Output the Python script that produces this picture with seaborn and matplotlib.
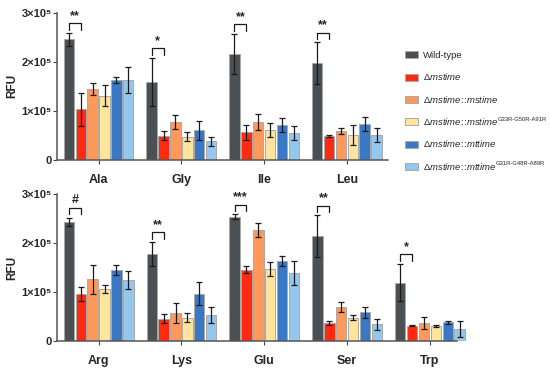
import numpy as np
import pandas as pd
import matplotlib
matplotlib.use('Agg')
import matplotlib.pyplot as plt
from matplotlib.patches import Patch
import seaborn as sns

strains = ['Wild-type', 'dmstime', 'dmstime::mstime', 'dmstime::mstime_mut',
           'dmstime::mttime', 'dmstime::mttime_mut']
cc = r'\!:\!\!:\!'
legend_labels = [
    'Wild-type',
    r'$\Delta\mathit{mstime}$',
    r'$\Delta\mathit{mstime' + cc + r'mstime}$',
    r'$\Delta\mathit{mstime' + cc + r'mstime}$',
    r'$\Delta\mathit{mstime' + cc + r'mttime}$',
    r'$\Delta\mathit{mstime' + cc + r'mttime}$',
]
legend_sup = ['', '', '', 'G33R-G50R-A91R', '', 'G31R-G48R-A89R']
colors = ['#4b5055', '#ff2b10', '#ff995b', '#ffe49e', '#3b78c4', '#95c7ec']

top_aa = ['Ala', 'Gly', 'Ile', 'Leu']
bottom_aa = ['Arg', 'Lys', 'Glu', 'Ser', 'Trp']

# means and SD, units of 1e5 RFU, strain order as above
ala = [2.46, 1.03, 1.44, 1.31, 1.63, 1.63]
ala_sd = [0.13, 0.34, 0.12, 0.22, 0.07, 0.26]
gly = [1.59, 0.49, 0.78, 0.47, 0.60, 0.38]
gly_sd = [0.49, 0.09, 0.14, 0.095, 0.20, 0.09]
ile = [2.16, 0.56, 0.77, 0.61, 0.71, 0.55]
ile_sd = [0.40, 0.15, 0.17, 0.14, 0.14, 0.14]
leu = [1.97, 0.48, 0.59, 0.51, 0.73, 0.51]
leu_sd = [0.43, 0.02, 0.06, 0.20, 0.15, 0.14]

arg = [2.44, 0.96, 1.26, 1.07, 1.45, 1.25]
arg_sd = [0.08, 0.15, 0.29, 0.08, 0.095, 0.19]
lys = [1.78, 0.46, 0.57, 0.48, 0.97, 0.54]
lys_sd = [0.24, 0.095, 0.20, 0.09, 0.23, 0.16]
glu = [2.54, 1.46, 2.27, 1.47, 1.63, 1.39]
glu_sd = [0.05, 0.07, 0.14, 0.14, 0.10, 0.24]
ser = [2.14, 0.37, 0.69, 0.48, 0.59, 0.34]
ser_sd = [0.43, 0.035, 0.10, 0.05, 0.11, 0.11]
trp = [1.19, 0.31, 0.37, 0.31, 0.39, 0.25]
trp_sd = [0.38, 0.01, 0.13, 0.02, 0.03, 0.16]

sig_top = ['**', '*', '**', '**']
sig_top_y = [2.79, 2.28, 2.77, 2.60]
sig_bottom = ['#', '**', '***', '**', '*']
sig_bottom_y = [2.72, 2.22, 2.79, 2.77, 1.77]

sns.set_style('ticks')
plt.rcParams['font.family'] = ['Liberation Sans', 'DejaVu Sans']
plt.rcParams['mathtext.fontset'] = 'custom'
plt.rcParams['mathtext.rm'] = 'Liberation Sans'
plt.rcParams['mathtext.it'] = 'Liberation Sans:italic'
plt.rcParams['mathtext.bf'] = 'Liberation Sans:bold'


def panel(ax, aas, means, sds, sigs, sig_y, xend):
    rows = []
    for aa, m in zip(aas, means):
        for s, v in zip(strains, m):
            rows.append({'aa': aa, 'strain': s, 'rfu': v * 1e5})
    df = pd.DataFrame(rows)
    sns.barplot(data=df, x='aa', y='rfu', hue='strain', hue_order=strains,
                order=aas, palette=colors, saturation=1, errorbar=None,
                width=0.86, gap=0.12, edgecolor='#a9a9a9', linewidth=0.7,
                legend=False, ax=ax)
    bars = list(ax.containers)
    for i, cont in enumerate(bars):
        for j, bar in enumerate(cont):
            x = bar.get_x() + bar.get_width() / 2
            ax.errorbar(x, bar.get_height(), yerr=sds[j][i] * 1e5, fmt='none',
                        ecolor='#1a1a1a', elinewidth=0.9, capsize=2.5,
                        capthick=0.9, zorder=5)
    # significance brackets WT vs deletion
    wt = bars[0]
    dl = bars[1]
    for j in range(len(aas)):
        x1 = wt[j].get_x() + wt[j].get_width() / 2
        x2 = dl[j].get_x() + dl[j].get_width() / 2
        y = sig_y[j] * 1e5
        d = 0.13e5
        ax.plot([x1, x1, x2, x2], [y - d, y, y, y - d], color='#1a1a1a', lw=0.9)
        ax.text((x1 + x2) / 2, y + 0.03e5, sigs[j], ha='center', va='bottom',
                fontsize=9, fontweight='bold')
    ax.set_ylim(0, 3e5)
    ax.set_xlim(-0.5, len(aas) - 0.5)
    ax.spines['bottom'].set_bounds(-0.5, xend)
    ax.set_yticks([0, 1e5, 2e5, 3e5])
    ax.set_yticklabels(['0', '1×10⁵', '2×10⁵', '3×10⁵'], fontweight='bold', fontsize=8)
    ax.set_xticks(range(len(aas)))
    ax.set_xticklabels(aas, fontweight='bold', fontsize=9)
    ax.set_xlabel('')
    ax.set_ylabel('RFU', fontweight='bold', fontsize=8.5, labelpad=2)
    ax.tick_params(axis='x', length=3, pad=7, color='#444444')
    ax.tick_params(axis='y', length=3, pad=1, color='#444444')
    for side in ['top', 'right']:
        ax.spines[side].set_visible(False)
    for side in ['left', 'bottom']:
        ax.spines[side].set_color('#555555')
        ax.spines[side].set_linewidth(1.1)


fig = plt.figure(figsize=(5.5, 3.7), dpi=100)
ax1 = fig.add_axes([0.104, 0.568, 0.602, 0.397])
ax2 = fig.add_axes([0.104, 0.078, 0.753, 0.397])

panel(ax1, top_aa, [ala, gly, ile, leu], [ala_sd, gly_sd, ile_sd, leu_sd],
      sig_top, sig_top_y, 3.5)
panel(ax2, bottom_aa, [arg, lys, glu, ser, trp],
      [arg_sd, lys_sd, glu_sd, ser_sd, trp_sd], sig_bottom, sig_bottom_y, 4.33)

handles = [Patch(facecolor=c, edgecolor='#a9a9a9', linewidth=0.7) for c in colors]
leg = fig.legend(handles, legend_labels, loc='upper left', bbox_to_anchor=(0.72, 0.885),
                 frameon=False, fontsize=6.8, handlelength=1.4, handleheight=0.75,
                 handletextpad=0.6, labelspacing=1.2)

# superscript mutation tags after the legend labels
fig.canvas.draw()
inv = fig.transFigure.inverted()
for t, sup in zip(leg.get_texts(), legend_sup):
    if not sup:
        continue
    bb = t.get_window_extent()
    x, y = inv.transform((bb.x1 - 1.5, bb.y0 + 0.5 * bb.height))
    fig.text(x, y, sup, fontsize=4.2, ha='left', va='bottom')

fig.savefig('out.png', dpi=100)
